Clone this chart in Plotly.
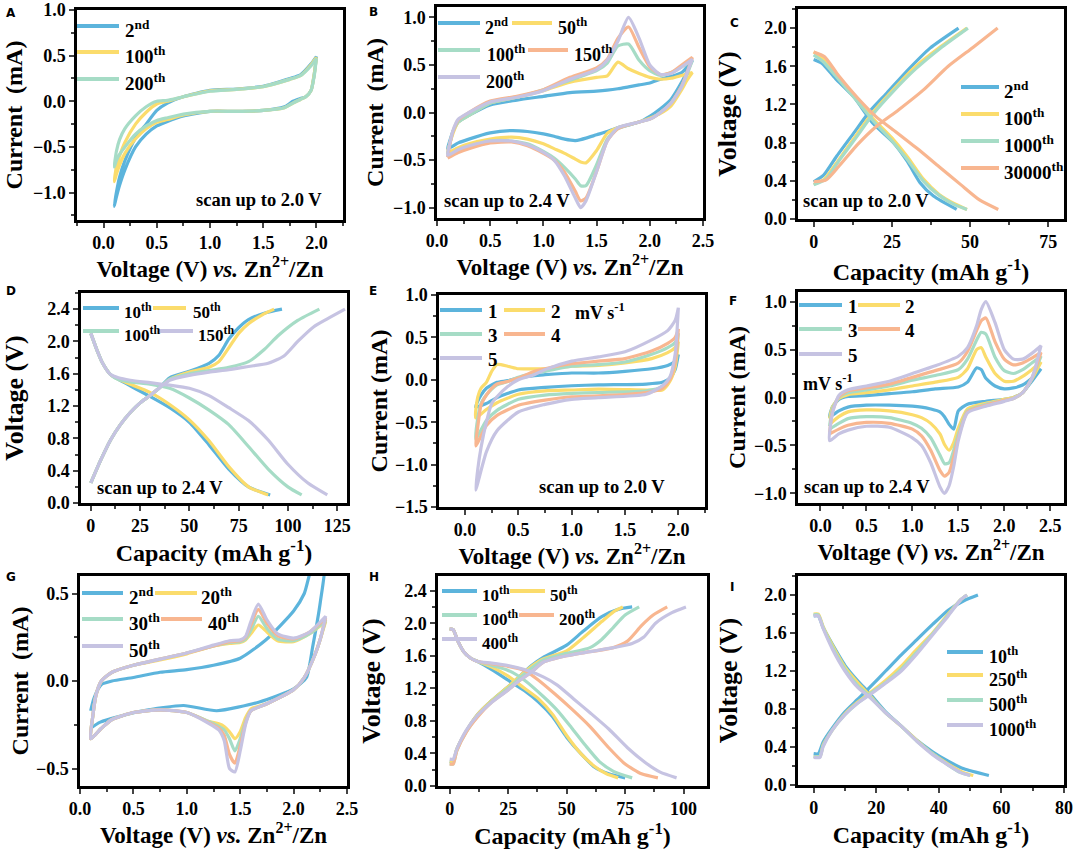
import plotly.graph_objects as go

FONT = "Liberation Serif"
BLUE = "#5cb4dc"
YELLOW = "#fbdc6c"
GREEN = "#a6dcc6"
ORANGE = "#f8b690"
PURPLE = "#c6c3e2"

# panel A, CV up to 2.0 V
a_up_v = [.1, .12, .15, .2, .3, .4, .5, .6, .75, 1, 1.25, 1.5, 1.75, 1.85, 1.95, 2]
a_down_v = [2, 1.98, 1.95, 1.9, 1.85, 1.78, 1.7, 1.5, 1.25, 1, .75, .6, .5, .4, .3, .2, .15, .12, .1]
a_2_up = [-1.15, -1.0, -.83, -.65, -.4, -.25, -.1, -.02, .05, .12, .135, .165, .25, .29, .41, .49]
a_2_down = [.49, .3, .12, .05, .03, 0, -.06, -.1, -.11, -.11, -.16, -.22, -.27, -.36, -.5, -.75, -.92, -1.05, -1.15]
a_100_up = [-.88, -.72, -.6, -.45, -.25, -.12, -.03, 0, .05, .115, .13, .16, .24, .28, .4, .48]
a_100_down = [.48, .3, .12, .05, .02, -.02, -.07, -.1, -.11, -.11, -.15, -.2, -.23, -.3, -.41, -.57, -.7, -.8, -.88]
a_200_up = [-.72, -.55, -.42, -.3, -.16, -.06, 0, .01, .05, .11, .13, .16, .24, .28, .39, .47]
a_200_down = [.47, .28, .12, .05, .02, -.02, -.07, -.1, -.11, -.11, -.14, -.18, -.21, -.27, -.36, -.5, -.58, -.65, -.72]

# panel B, CV up to 2.4 V
b_up_v = [.1, .12, .15, .2, .3, .5, .75, 1, 1.25, 1.5, 1.6, 1.7, 1.8, 1.9, 2, 2.1, 2.2, 2.3, 2.4]
b_down_v = [2.4, 2.35, 2.3, 2.2, 2.1, 2, 1.9, 1.7, 1.6, 1.5, 1.4, 1.35, 1.3, 1.2, 1.1, 1, .85, .7, .5, .3, .2, .1]
b_2_up = [-.38, -.3, -.2, -.1, -.03, .08, .13, .17, .21, .225, .235, .25, .27, .29, .31, .35, .38, .42, .55]
b_2_down = [.55, .43, .32, .14, .04, -.04, -.1, -.16, -.2, -.235, -.27, -.285, -.295, -.28, -.25, -.225, -.2, -.19, -.215, -.28, -.32, -.38]
b_50_up = [-.42, -.33, -.22, -.1, -.03, .1, .16, .23, .32, .37, .385, .53, .46, .41, .37, .35, .36, .39, .42]
b_50_down = [.42, .34, .24, .07, -.01, -.06, -.1, -.16, -.22, -.4, -.53, -.52, -.49, -.43, -.38, -.33, -.28, -.26, -.28, -.33, -.37, -.42]
b_100_up = [-.44, -.33, -.2, -.1, -.03, .1, .16, .24, .34, .44, .52, .7, .72, .55, .44, .39, .42, .48, .55]
b_100_down = [.55, .4, .28, .1, 0, -.07, -.1, -.17, -.28, -.55, -.77, -.77, -.7, -.58, -.48, -.41, -.33, -.3, -.3, -.36, -.4, -.46]
b_150_up = [-.47, -.34, -.2, -.08, 0, .12, .17, .24, .37, .47, .56, .78, .9, .68, .48, .4, .42, .5, .58]
b_150_down = [.58, .42, .28, .1, 0, -.07, -.1, -.17, -.3, -.62, -.9, -.93, -.83, -.63, -.5, -.43, -.35, -.31, -.32, -.38, -.42, -.48]
b_200_up = [-.45, -.33, -.19, -.07, 0, .11, .16, .23, .35, .45, .55, .75, 1.0, .78, .5, .4, .41, .48, .56]
b_200_down = [.56, .42, .27, .1, 0, -.07, -.1, -.16, -.3, -.62, -.93, -1.0, -.9, -.67, -.5, -.42, -.34, -.3, -.3, -.35, -.39, -.45]

# panel C, charge / discharge
c_2_chg_q = [0, 3.2, 7.4, 12.8, 18, 23.4, 29.8, 37.2, 46.3]
c_2_chg_v = [.39, .46, .66, .9, 1.13, 1.32, 1.55, 1.79, 2.0]
c_2_dis_q = [0, 2.7, 7, 12.8, 19, 25.5, 30, 34, 38.3, 45.7]
c_2_dis_v = [1.67, 1.63, 1.47, 1.28, 1.0, .8, .6, .38, .24, .1]
c_100_chg_q = [0, 3.5, 8, 13, 19, 25, 32, 40, 49]
c_100_chg_v = [.36, .42, .62, .85, 1.12, 1.34, 1.58, 1.79, 2.0]
c_100_dis_q = [0, 3, 7, 13, 19, 25, 30, 35, 40, 45, 49]
c_100_dis_v = [1.75, 1.68, 1.52, 1.28, 1.05, .85, .65, .42, .26, .16, .1]
c_1000_chg_q = [0, 4, 8.3, 13.5, 19, 25.5, 32.5, 40.5, 49.3]
c_1000_chg_v = [.36, .42, .62, .85, 1.1, 1.34, 1.57, 1.79, 2.0]
c_1000_dis_q = [0, 3, 7, 13, 19, 25, 30, 35, 40, 45, 49]
c_1000_dis_v = [1.72, 1.65, 1.5, 1.27, 1.03, .82, .62, .4, .25, .15, .1]
c_30000_chg_q = [0, 4, 8, 14, 20, 27, 35, 43, 51, 58.8]
c_30000_chg_v = [.39, .41, .55, .78, .97, 1.14, 1.35, 1.6, 1.8, 2.0]
c_30000_dis_q = [0, 3.5, 8, 14, 20, 26, 33, 40, 47, 53, 59]
c_30000_dis_v = [1.75, 1.7, 1.5, 1.27, 1.07, .92, .74, .55, .36, .2, .1]

# panel D
d_10_chg_q = [0, 5, 10, 15, 20, 25, 30, 35, 40, 50, 60, 65, 70, 75, 80, 88, 97]
d_10_chg_v = [.25, .53, .78, .97, 1.12, 1.24, 1.33, 1.43, 1.55, 1.63, 1.73, 1.83, 2.03, 2.17, 2.27, 2.35, 2.4]
d_10_dis_q = [0, 3, 6, 10, 14, 20, 30, 40, 50, 60, 70, 80, 91]
d_10_dis_v = [2.1, 1.9, 1.73, 1.59, 1.53, 1.45, 1.32, 1.18, 1.0, .72, .42, .2, .1]
d_50_chg_q = [0, 5, 10, 15, 20, 25, 30, 35, 40, 50, 60, 65, 70, 75, 80, 87, 93]
d_50_chg_v = [.25, .53, .78, .97, 1.12, 1.24, 1.33, 1.43, 1.53, 1.62, 1.68, 1.75, 1.92, 2.1, 2.22, 2.33, 2.4]
d_50_dis_q = [0, 3, 6, 10, 14, 20, 30, 40, 50, 60, 70, 80, 90]
d_50_dis_v = [2.1, 1.9, 1.73, 1.59, 1.53, 1.47, 1.37, 1.22, 1.03, .77, .45, .2, .1]
d_100_chg_q = [0, 5, 10, 15, 20, 25, 30, 35, 40, 50, 60, 70, 80, 88, 95, 105, 116]
d_100_chg_v = [.25, .53, .78, .97, 1.12, 1.24, 1.33, 1.43, 1.53, 1.6, 1.64, 1.68, 1.75, 1.9, 2.07, 2.26, 2.4]
d_100_dis_q = [0, 3, 6, 10, 14, 20, 30, 40, 50, 60, 70, 80, 90, 100, 107]
d_100_dis_v = [2.1, 1.9, 1.73, 1.59, 1.53, 1.5, 1.47, 1.42, 1.3, 1.15, .97, .7, .42, .2, .1]
d_150_chg_q = [0, 5, 10, 15, 20, 25, 30, 35, 40, 50, 60, 70, 80, 90, 98, 105, 113, 120, 129]
d_150_chg_v = [.25, .53, .78, .97, 1.12, 1.24, 1.33, 1.43, 1.52, 1.58, 1.62, 1.65, 1.69, 1.73, 1.82, 2.0, 2.18, 2.28, 2.4]
d_150_dis_q = [0, 3, 6, 10, 14, 20, 30, 40, 50, 60, 70, 80, 90, 100, 110, 120]
d_150_dis_v = [2.1, 1.9, 1.73, 1.59, 1.55, 1.52, 1.49, 1.46, 1.42, 1.33, 1.18, 1.02, .78, .48, .25, .1]

# panel E, scan rates up to 2.0 V
e_up_v = [.1, .12, .15, .2, .25, .3, .4, .5, .65, .75, 1, 1.25, 1.5, 1.75, 1.9, 1.97, 2]
e_down_v = [2, 1.97, 1.92, 1.85, 1.7, 1.25, 1, .75, .5, .3, .2, .1]
e_1_up = [-.32, -.25, -.18, -.1, -.06, -.03, -.01, .02, .05, .06, .08, .08, .1, .13, .17, .22, .3]
e_1_down = [.3, .12, .02, -.03, -.05, -.06, -.07, -.09, -.12, -.21, -.28, -.32]
e_2_up = [-.45, -.2, -.1, -.03, .1, .18, .16, .13, .13, .13, .16, .17, .2, .25, .32, .38, .45]
e_2_down = [.45, .15, -.02, -.12, -.12, -.11, -.12, -.13, -.17, -.27, -.35, -.45]
e_3_up = [-.7, -.45, -.28, -.18, -.11, -.06, -.02, .03, .08, .1, .16, .18, .21, .3, .38, .44, .55]
e_3_down = [.55, .2, .02, -.08, -.13, -.15, -.16, -.18, -.23, -.36, -.48, -.7]
e_4_up = [-.78, -.55, -.3, -.18, -.1, -.05, -.02, .02, .1, .13, .19, .22, .25, .34, .43, .5, .6]
e_4_down = [.6, .2, 0, -.1, -.15, -.19, -.2, -.24, -.3, -.42, -.54, -.78]
e_5_up = [-1.3, -1.05, -.8, -.5, -.28, -.2, -.08, 0, .06, .12, .22, .27, .33, .47, .58, .7, .85]
e_5_down = [.85, .3, .03, -.07, -.17, -.21, -.23, -.29, -.38, -.6, -.85, -1.3]

# panel F, scan rates up to 2.4 V
f_up_v = [.1, .13, .2, .3, .5, .75, 1, 1.25, 1.5, 1.6, 1.7, 1.75, 1.8, 1.9, 2, 2.1, 2.2, 2.3, 2.4]
f_down_v = [2.4, 2.3, 2.2, 2.1, 2, 1.8, 1.6, 1.5, 1.45, 1.4, 1.35, 1.3, 1.2, 1.1, 1, .75, .5, .3, .2, .1]
f_1_up = [-.2, -.1, -.02, .01, .02, .04, .06, .09, .11, .16, .31, .29, .2, .12, .09, .1, .13, .2, .3]
f_1_down = [.3, .17, .05, 0, -.02, -.04, -.07, -.14, -.33, -.28, -.2, -.15, -.12, -.1, -.09, -.08, -.08, -.1, -.14, -.2]
f_2_up = [-.22, -.1, -.01, .03, .05, .08, .12, .16, .21, .3, .5, .52, .42, .25, .17, .17, .22, .29, .37]
f_2_down = [.37, .19, .05, 0, -.02, -.06, -.12, -.32, -.47, -.55, -.49, -.38, -.27, -.21, -.18, -.14, -.13, -.15, -.2, -.28]
f_3_up = [-.3, -.12, 0, .05, .08, .12, .18, .23, .29, .4, .6, .68, .66, .42, .28, .25, .29, .36, .43]
f_3_down = [.43, .2, .05, -.01, -.03, -.07, -.14, -.38, -.55, -.68, -.69, -.6, -.42, -.32, -.27, -.21, -.2, -.22, -.27, -.33]
f_4_up = [-.37, -.15, .01, .07, .1, .14, .21, .28, .36, .48, .7, .8, .83, .58, .4, .34, .36, .41, .47]
f_4_down = [.47, .2, .05, -.01, -.03, -.08, -.15, -.42, -.62, -.78, -.82, -.76, -.55, -.4, -.33, -.27, -.26, -.29, -.33, -.38]
f_5_up = [-.45, -.17, .02, .08, .12, .17, .25, .33, .43, .52, .75, .92, 1.0, .78, .5, .4, .4, .46, .54]
f_5_down = [.54, .2, .05, -.01, -.04, -.09, -.16, -.45, -.72, -.92, -1.0, -.93, -.68, -.5, -.42, -.31, -.3, -.34, -.38, -.45]

# panel G
g_2_up_v = [.1, .13, .2, .3, .5, .75, 1, 1.25, 1.5, 1.75, 2, 2.1, 2.2]
g_2_up = [-.17, -.1, -.02, 0, .02, .05, .065, .09, .13, .24, .4, .5, .7]
g_2_down_v = [2.29, 2.25, 2.18, 2.12, 2, 1.68, 1.28, .97, .59, .19, .1]
g_2_down = [.7, .45, .2, .02, -.045, -.12, -.17, -.14, -.17, -.235, -.27]
g_up_v = [.1, .12, .15, .2, .3, .5, .75, 1, 1.25, 1.4, 1.5, 1.55, 1.6, 1.67, 1.75, 1.85, 2, 2.15, 2.3]
g_down_v = [2.3, 2.25, 2.2, 2.1, 2, 1.75, 1.6, 1.55, 1.5, 1.45, 1.4, 1.35, 1.3, 1.2, 1, .75, .5, .3, .2, .1]
g_20_up = [-.33, -.2, -.08, 0, .05, .09, .12, .155, .2, .215, .22, .235, .27, .32, .28, .23, .225, .27, .34]
g_20_down = [.34, .24, .15, .02, -.05, -.13, -.16, -.21, -.29, -.33, -.29, -.26, -.245, -.23, -.18, -.165, -.18, -.22, -.27, -.33]
g_30_up = [-.33, -.2, -.08, 0, .05, .09, .125, .16, .2, .22, .225, .24, .29, .37, .3, .24, .23, .27, .35]
g_30_down = [.35, .24, .15, .02, -.05, -.13, -.17, -.23, -.33, -.4, -.33, -.28, -.26, -.23, -.18, -.165, -.18, -.22, -.27, -.33]
g_40_up = [-.33, -.2, -.08, 0, .05, .09, .125, .16, .2, .225, .23, .25, .32, .41, .33, .26, .24, .28, .36]
g_40_down = [.36, .24, .15, .02, -.05, -.13, -.17, -.24, -.37, -.47, -.42, -.31, -.27, -.235, -.18, -.165, -.18, -.22, -.27, -.33]
g_50_up = [-.33, -.2, -.08, 0, .05, .09, .125, .16, .205, .23, .235, .255, .34, .44, .35, .27, .245, .28, .37]
g_50_down = [.37, .24, .15, .02, -.05, -.13, -.17, -.25, -.4, -.52, -.5, -.34, -.28, -.24, -.18, -.165, -.18, -.22, -.27, -.33]

# panel H
h_10_chg_q = [0, 1.5, 3, 7, 12, 18, 25, 30, 35, 40, 50, 57, 65, 72, 78]
h_10_chg_v = [.3, .3, .45, .67, .88, 1.05, 1.22, 1.35, 1.48, 1.58, 1.73, 1.9, 2.08, 2.17, 2.2]
h_10_dis_q = [0, 1.5, 3.5, 6, 9, 12, 18, 25, 32, 38, 44, 50, 56, 62, 68, 75]
h_10_dis_v = [1.93, 1.92, 1.78, 1.65, 1.57, 1.53, 1.43, 1.3, 1.17, 1.03, .85, .6, .4, .23, .15, .1]
h_50_chg_q = [0, 1.5, 3, 7, 12, 18, 25, 30, 35, 40, 50, 57, 65, 70, 74]
h_50_chg_v = [.3, .3, .45, .67, .88, 1.05, 1.22, 1.35, 1.47, 1.56, 1.66, 1.82, 2.02, 2.14, 2.2]
h_50_dis_q = [0, 1.5, 3.5, 6, 9, 12, 18, 25, 32, 38, 44, 50, 56, 62, 67, 72]
h_50_dis_v = [1.93, 1.92, 1.78, 1.65, 1.57, 1.53, 1.46, 1.35, 1.2, 1.07, .88, .62, .4, .24, .15, .1]
h_100_chg_q = [0, 1.5, 3, 7, 12, 18, 25, 30, 35, 40, 50, 60, 65, 70, 75, 81]
h_100_chg_v = [.27, .27, .43, .66, .86, 1.04, 1.2, 1.33, 1.45, 1.55, 1.63, 1.7, 1.8, 1.95, 2.1, 2.2]
h_100_dis_q = [0, 1.5, 3.5, 6, 9, 12, 18, 25, 32, 40, 46, 52, 58, 64, 70, 78]
h_100_dis_v = [1.93, 1.92, 1.78, 1.65, 1.57, 1.53, 1.48, 1.42, 1.3, 1.1, .93, .72, .5, .3, .18, .1]
h_200_chg_q = [0, 1.5, 3, 7, 12, 18, 25, 30, 35, 40, 50, 60, 70, 76, 82, 87, 93]
h_200_chg_v = [.27, .27, .43, .66, .85, 1.03, 1.18, 1.3, 1.4, 1.52, 1.6, 1.65, 1.7, 1.78, 1.97, 2.1, 2.2]
h_200_dis_q = [0, 1.5, 3.5, 6, 9, 12, 18, 25, 32, 38, 45, 52, 60, 68, 75, 82, 89]
h_200_dis_v = [1.93, 1.92, 1.78, 1.65, 1.57, 1.53, 1.5, 1.47, 1.42, 1.3, 1.13, .95, .73, .47, .27, .15, .1]
h_400_chg_q = [0, 1.5, 3, 7, 12, 18, 25, 30, 35, 40, 50, 60, 70, 78, 83, 88, 95, 101]
h_400_chg_v = [.33, .33, .45, .68, .87, 1.03, 1.18, 1.3, 1.4, 1.52, 1.6, 1.65, 1.7, 1.75, 1.83, 2.0, 2.13, 2.2]
h_400_dis_q = [0, 1.5, 3.5, 6, 9, 12, 18, 25, 32, 40, 46, 53, 60, 68, 76, 84, 90, 97]
h_400_dis_v = [1.93, 1.92, 1.78, 1.65, 1.57, 1.53, 1.51, 1.48, 1.43, 1.34, 1.24, 1.07, .9, .7, .47, .28, .17, .1]

# panel I
i_10_chg_q = [0, 1.5, 3, 6, 10, 14, 18, 23, 28, 33, 38, 43, 48, 52.5]
i_10_chg_v = [.33, .33, .45, .6, .77, .9, 1.03, 1.2, 1.37, 1.53, 1.69, 1.84, 1.94, 2.0]
i_10_dis_q = [0, 1.5, 3, 6, 10, 14, 18, 23, 28, 33, 38, 43, 48, 56]
i_10_dis_v = [1.78, 1.78, 1.66, 1.48, 1.26, 1.1, .96, .77, .62, .47, .35, .25, .17, .1]
i_250_chg_q = [0, 2, 3, 6, 10, 14, 18, 23, 28, 33, 38, 43, 47, 49]
i_250_chg_v = [.3, .3, .42, .58, .75, .87, .97, 1.1, 1.25, 1.43, 1.6, 1.8, 1.95, 2.0]
i_250_dis_q = [0, 1.5, 3, 6, 10, 14, 18, 23, 28, 33, 38, 43, 48, 51]
i_250_dis_v = [1.8, 1.8, 1.67, 1.47, 1.24, 1.08, .94, .76, .62, .47, .33, .22, .13, .1]
i_500_chg_q = [0, 2, 3, 6, 10, 14, 18, 23, 28, 33, 38, 43, 47, 49]
i_500_chg_v = [.3, .3, .41, .58, .74, .86, .96, 1.08, 1.22, 1.4, 1.59, 1.79, 1.95, 2.0]
i_500_dis_q = [0, 1.5, 3, 6, 10, 14, 18, 23, 28, 33, 38, 43, 47, 50]
i_500_dis_v = [1.79, 1.79, 1.66, 1.45, 1.22, 1.05, .93, .76, .62, .46, .33, .21, .13, .1]
i_1000_chg_q = [0, 2, 3, 6, 10, 14, 18, 23, 28, 33, 38, 43, 47, 49]
i_1000_chg_v = [.29, .29, .4, .58, .74, .86, .95, 1.07, 1.2, 1.38, 1.58, 1.78, 1.95, 2.0]
i_1000_dis_q = [0, 1.5, 3, 6, 10, 14, 18, 23, 28, 33, 38, 43, 47, 50]
i_1000_dis_v = [1.78, 1.78, 1.65, 1.43, 1.2, 1.03, .92, .76, .62, .46, .32, .21, .13, .1]

CV_V = "Voltage (V) <i>vs.</i> Zn<sup>2+</sup>/Zn"
CAP = "Capacity (mAh g<sup>-1</sup>)"
VOLT = "Voltage (V)"

W, H = 1080, 851
fig = go.Figure()


def add_axes(n, box, xrange, yrange, xd, yd, xtitle, ytitle, xoff=6, yoff=3, xfmt=".1f"):
    # box is left, right, top, bottom of the frame in page pixels
    l, r, t, b = box
    style = dict(showline=True, linewidth=2.5, linecolor="black", mirror=True, automargin=False,
                 showgrid=False, zeroline=False, ticks="outside", ticklen=5, tickwidth=2,
                 tick0=0, tickfont=dict(family=FONT, size=18, color="black", weight=700))
    xsize = 24 if xtitle == CAP else 23
    ysize = 26 if ytitle == VOLT else 24
    xax = dict(style, domain=[l / W, r / W], range=xrange, dtick=xd, anchor=f"y{n}", tickformat=xfmt,
               minor=dict(dtick=xd / 2, ticks="outside", ticklen=3, tickwidth=2, tick0=0),
               title=dict(text=xtitle, standoff=xoff, font=dict(family=FONT, size=xsize, color="black", weight=700)))
    yax = dict(style, domain=[1 - b / H, 1 - t / H], range=yrange, dtick=yd, anchor=f"x{n}", tickformat=".1f",
               minor=dict(dtick=yd / 2, ticks="outside", ticklen=3, tickwidth=2, tick0=0),
               title=dict(text=ytitle, standoff=yoff, font=dict(family=FONT, size=ysize, color="black", weight=700)))
    fig.update_layout({f"xaxis{n}": xax, f"yaxis{n}": yax})


def add_line(n, x, y, color):
    assert len(x) == len(y)
    fig.add_trace(go.Scatter(x=x, y=y, mode="lines", xaxis=f"x{n}", yaxis=f"y{n}", showlegend=False,
                             line=dict(color=color, width=3.2, shape="spline", smoothing=0.6)))


def add_text(x, y, text, size=19, anchor="left", family=FONT):
    fig.add_annotation(x=x / W, y=1 - y / H, xref="paper", yref="paper", text=text, showarrow=False,
                       xanchor=anchor, yanchor="middle", align="left", borderpad=0,
                       font=dict(family=family, size=size, color="black", weight=700))


def add_key(x0, x1, y, color, text, tx, size=19):
    fig.add_shape(type="line", xref="paper", yref="paper", x0=x0 / W, x1=x1 / W, y0=1 - y / H, y1=1 - y / H,
                  line=dict(color=color, width=4))
    # the superscript makes the box taller, so the digits sit above its middle
    add_text(tx, y + (3 if "<sup" in text else 1), text, size=size)


add_axes(1, (77, 343, 10, 220), [-.25, 2.25], [-1.3, 1.0], .5, .5, CV_V, "Current  (mA)", yoff=4)
add_axes(2, (437, 703, 7, 218), [0, 2.5], [-1.11, 1.11], .5, .5, CV_V, "Current  (mA)", yoff=3)
add_axes(3, (798, 1064, 9, 219), [-5, 80], [0, 2.2], 25, .4, CAP, VOLT, xoff=12, yoff=21, xfmt="d")
add_axes(4, (81, 347, 293, 503), [-5, 130], [0, 2.6], 25, .4, CAP, VOLT, yoff=22, xfmt="d")
add_axes(5, (439, 705, 295, 507), [-.244, 2.25], [-1.5, 1.0], .5, .5, CV_V, "Current (mA)", xoff=3, yoff=1)
add_axes(6, (798, 1064, 292, 503), [-.244, 2.65], [-1.1, 1.1], .5, .5, CV_V, "Current (mA)", xoff=8, yoff=2)
add_axes(7, (80, 347, 576, 786), [0, 2.5], [-.6, .6], .5, .5, CV_V, "Current  (mA)", xoff=4, yoff=1)
add_axes(8, (438, 707, 576, 786), [-5, 110], [0, 2.58], 25, .4, CAP, VOLT, yoff=17, xfmt="d")
add_axes(9, (798, 1064, 576, 785), [-5, 80], [0, 2.2], 20, .4, CAP, VOLT, yoff=20, xfmt="d")

for up, down, color in [(a_2_up, a_2_down, BLUE), (a_100_up, a_100_down, YELLOW), (a_200_up, a_200_down, GREEN)]:
    add_line(1, a_up_v + a_down_v, up + down, color)
for up, down, color in [(b_2_up, b_2_down, BLUE), (b_50_up, b_50_down, YELLOW), (b_100_up, b_100_down, GREEN),
                        (b_150_up, b_150_down, ORANGE), (b_200_up, b_200_down, PURPLE)]:
    add_line(2, b_up_v + b_down_v, up + down, color)
for q1, v1, q2, v2, color in [(c_2_chg_q, c_2_chg_v, c_2_dis_q, c_2_dis_v, BLUE),
                              (c_100_chg_q, c_100_chg_v, c_100_dis_q, c_100_dis_v, YELLOW),
                              (c_1000_chg_q, c_1000_chg_v, c_1000_dis_q, c_1000_dis_v, GREEN),
                              (c_30000_chg_q, c_30000_chg_v, c_30000_dis_q, c_30000_dis_v, ORANGE)]:
    add_line(3, q1, v1, color)
    add_line(3, q2, v2, color)
for q1, v1, q2, v2, color in [(d_10_chg_q, d_10_chg_v, d_10_dis_q, d_10_dis_v, BLUE),
                              (d_50_chg_q, d_50_chg_v, d_50_dis_q, d_50_dis_v, YELLOW),
                              (d_100_chg_q, d_100_chg_v, d_100_dis_q, d_100_dis_v, GREEN),
                              (d_150_chg_q, d_150_chg_v, d_150_dis_q, d_150_dis_v, PURPLE)]:
    add_line(4, q1, v1, color)
    add_line(4, q2, v2, color)
for up, down, color in [(e_1_up, e_1_down, BLUE), (e_2_up, e_2_down, YELLOW), (e_3_up, e_3_down, GREEN),
                        (e_4_up, e_4_down, ORANGE), (e_5_up, e_5_down, PURPLE)]:
    add_line(5, e_up_v + e_down_v, up + down, color)
for up, down, color in [(f_1_up, f_1_down, BLUE), (f_2_up, f_2_down, YELLOW), (f_3_up, f_3_down, GREEN),
                        (f_4_up, f_4_down, ORANGE), (f_5_up, f_5_down, PURPLE)]:
    add_line(6, f_up_v + f_down_v, up + down, color)
add_line(7, g_2_up_v + g_2_down_v, g_2_up + g_2_down, BLUE)
for up, down, color in [(g_20_up, g_20_down, YELLOW), (g_30_up, g_30_down, GREEN),
                        (g_40_up, g_40_down, ORANGE), (g_50_up, g_50_down, PURPLE)]:
    add_line(7, g_up_v + g_down_v, up + down, color)
for q1, v1, q2, v2, color in [(h_10_chg_q, h_10_chg_v, h_10_dis_q, h_10_dis_v, BLUE),
                              (h_50_chg_q, h_50_chg_v, h_50_dis_q, h_50_dis_v, YELLOW),
                              (h_100_chg_q, h_100_chg_v, h_100_dis_q, h_100_dis_v, GREEN),
                              (h_200_chg_q, h_200_chg_v, h_200_dis_q, h_200_dis_v, ORANGE),
                              (h_400_chg_q, h_400_chg_v, h_400_dis_q, h_400_dis_v, PURPLE)]:
    add_line(8, q1, v1, color)
    add_line(8, q2, v2, color)
for q1, v1, q2, v2, color in [(i_10_chg_q, i_10_chg_v, i_10_dis_q, i_10_dis_v, BLUE),
                              (i_250_chg_q, i_250_chg_v, i_250_dis_q, i_250_dis_v, YELLOW),
                              (i_500_chg_q, i_500_chg_v, i_500_dis_q, i_500_dis_v, GREEN),
                              (i_1000_chg_q, i_1000_chg_v, i_1000_dis_q, i_1000_dis_v, PURPLE)]:
    add_line(9, q1, v1, color)
    add_line(9, q2, v2, color)

# hand placed keys, the reference legends are not in regular columns
ND, TH = "<sup>nd</sup>", "<sup>th</sup>"
add_key(77, 119, 26, BLUE, "2" + ND, 124)
add_key(77, 119, 52, YELLOW, "100" + TH, 124)
add_key(77, 119, 79, GREEN, "200" + TH, 124)

add_key(438, 480, 23, BLUE, "2" + ND, 484, size=18)
add_key(512, 552, 23, YELLOW, "50" + TH, 557, size=18)
add_key(438, 480, 50, GREEN, "100" + TH, 486, size=18)
add_key(528, 568, 50, ORANGE, "150" + TH, 573, size=18)
add_key(438, 480, 77, PURPLE, "200" + TH, 485, size=18)

add_key(961, 999, 87, BLUE, "2" + ND, 1003)
add_key(961, 999, 114, YELLOW, "100" + TH, 1003)
add_key(961, 999, 141, GREEN, "1000" + TH, 1003)
add_key(961, 999, 168, ORANGE, "30000" + TH, 1003)

add_key(83, 119, 308, BLUE, "10" + TH, 123, size=17)
add_key(153, 186, 308, YELLOW, "50" + TH, 192, size=17)
add_key(83, 119, 331, GREEN, "100" + TH, 123, size=17)
add_key(157, 193, 331, PURPLE, "150" + TH, 197, size=17)

add_key(440, 482, 310, BLUE, "1", 487)
add_key(504, 545, 310, YELLOW, "2", 550)
add_text(574, 312, "mV s<sup>-1</sup>", size=18)
add_key(440, 482, 334, GREEN, "3", 487)
add_key(504, 545, 334, ORANGE, "4", 550)
add_key(440, 482, 358, PURPLE, "5", 487)

add_key(799, 842, 305, BLUE, "1", 847)
add_key(858, 900, 305, YELLOW, "2", 904)
add_key(799, 842, 329, GREEN, "3", 847)
add_key(858, 900, 329, ORANGE, "4", 904)
add_key(799, 842, 354, PURPLE, "5", 847)
add_text(802, 382, "mV s<sup>-1</sup>", size=18)

add_key(82, 123, 593, BLUE, "2" + ND, 128)
add_key(155, 197, 593, YELLOW, "20" + TH, 200)
add_key(82, 123, 619, GREEN, "30" + TH, 128)
add_key(161, 202, 619, ORANGE, "40" + TH, 207)
add_key(82, 123, 646, PURPLE, "50" + TH, 128)

add_key(442, 477, 591, BLUE, "10" + TH, 481, size=17)
add_key(510, 545, 591, YELLOW, "50" + TH, 549, size=17)
add_key(442, 477, 615, GREEN, "100" + TH, 481, size=17)
add_key(519, 554, 615, ORANGE, "200" + TH, 558, size=17)
add_key(442, 477, 639, PURPLE, "400" + TH, 481, size=17)

add_key(947, 983, 652, BLUE, "10" + TH, 988, size=18)
add_key(947, 983, 675, YELLOW, "250" + TH, 988, size=18)
add_key(947, 983, 700, GREEN, "500" + TH, 988, size=18)
add_key(947, 983, 725, PURPLE, "1000" + TH, 988, size=18)

for x, y, text in [(195, 200, "scan up to 2.0 V"), (443, 201, "scan up to 2.4 V"), (802, 201, "scan up to 2.0 V"),
                   (96, 488, "scan up to 2.4 V"), (538, 487, "scan up to 2.0 V"), (803, 487, "scan up to 2.4 V")]:
    add_text(x, y, text, size=18.5)

for x, y, letter in [(11, 13, "A"), (373, 12, "B"), (734, 23, "C"), (11, 291, "D"), (373, 291, "E"),
                     (733, 301, "F"), (11, 577, "G"), (374, 577, "H"), (732, 587, "I")]:
    add_text(x, y, letter, size=12, anchor="center", family="DejaVu Sans")

fig.update_layout(width=W, height=H, margin=dict(l=0, r=0, t=0, b=0), autosize=False,
                  plot_bgcolor="white", paper_bgcolor="white", showlegend=False)
fig.write_html("out.html", config=dict(displayModeBar=False),
               post_script="document.body.style.margin='0';document.body.style.overflow='hidden';")
